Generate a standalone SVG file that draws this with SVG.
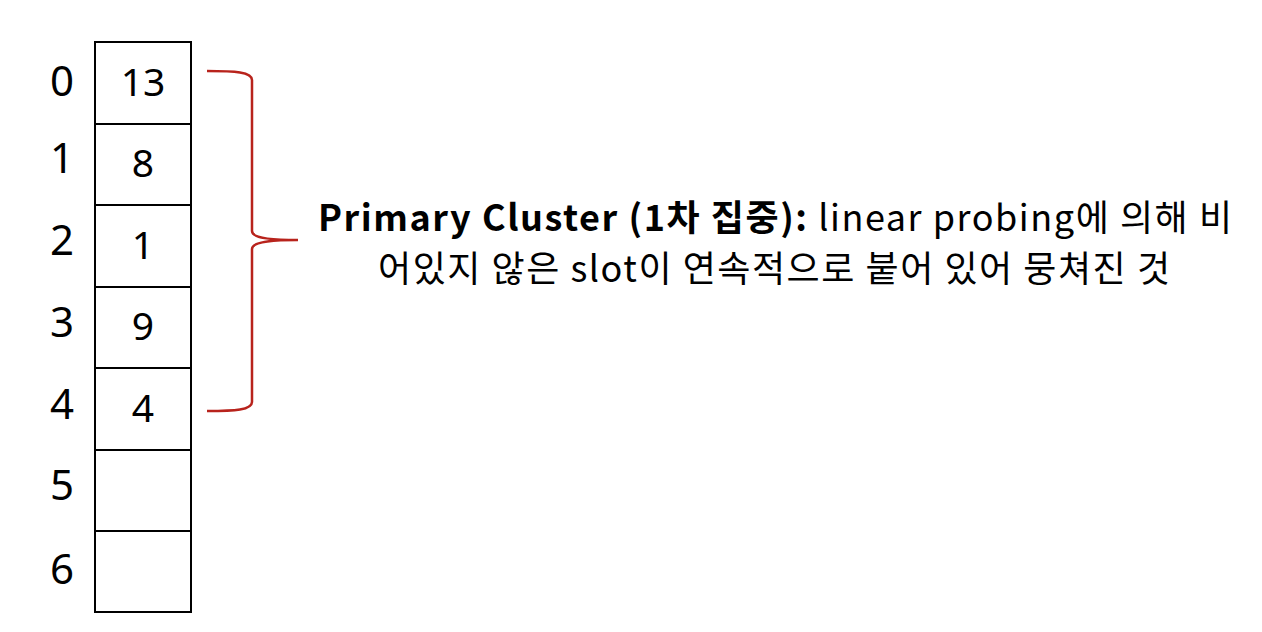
<svg xmlns="http://www.w3.org/2000/svg" width="1262" height="632" viewBox="0 0 1262 632">
<style>
.cell{fill:#fff;stroke:#000;stroke-width:2}
.num{font-family:"Noto Sans","Noto Sans CJK KR",sans-serif;font-size:39px;fill:#000;text-anchor:middle}
.idx{font-family:"Noto Sans","Noto Sans CJK KR",sans-serif;font-size:42px;fill:#000;text-anchor:middle}
.lbl{font-family:"Noto Sans CJK KR","Noto Sans",sans-serif;font-size:36px;fill:#000;text-anchor:middle}
.brace{fill:none;stroke:#b8231c;stroke-width:2.5}
</style>
<rect width="1262" height="632" fill="#fff"/>
<g id="slot0"><rect class="cell" x="95" y="42" width="96" height="82"/><text class="num" x="143" y="96">13</text><text class="idx" x="62" y="96">0</text></g>
<g id="slot1"><rect class="cell" x="95" y="124" width="96" height="81"/><text class="num" x="143" y="177">8</text><text class="idx" x="62" y="173">1</text></g>
<g id="slot2"><rect class="cell" x="95" y="205" width="96" height="82"/><text class="num" x="143" y="259">1</text><text class="idx" x="62" y="255">2</text></g>
<g id="slot3"><rect class="cell" x="95" y="287" width="96" height="81"/><text class="num" x="143" y="340">9</text><text class="idx" x="62" y="337">3</text></g>
<g id="slot4"><rect class="cell" x="95" y="368" width="96" height="82"/><text class="num" x="143" y="422">4</text><text class="idx" x="62" y="419">4</text></g>
<g id="slot5"><rect class="cell" x="95" y="450" width="96" height="81"/><text class="idx" x="62" y="500">5</text></g>
<g id="slot6"><rect class="cell" x="95" y="531" width="96" height="81"/><text class="idx" x="62" y="584">6</text></g>
<g id="connectors">
<path class="brace" d="M207,71 C235,71 252,72 252,80 L252,231 C252,238 270,240 298,240 C270,240 252,242 252,249 L252,402 C252,410 235,411 207,411"/>
</g>
<g id="label">
<text class="lbl" x="775" y="231" textLength="914" lengthAdjust="spacing"><tspan font-weight="bold">Primary Cluster (1차 집중):</tspan> linear probing에 의해 비</text>
<text class="lbl" x="774" y="282" textLength="792" lengthAdjust="spacing">어있지 않은 slot이 연속적으로 붙어 있어 뭉쳐진 것</text>
</g>
</svg>
